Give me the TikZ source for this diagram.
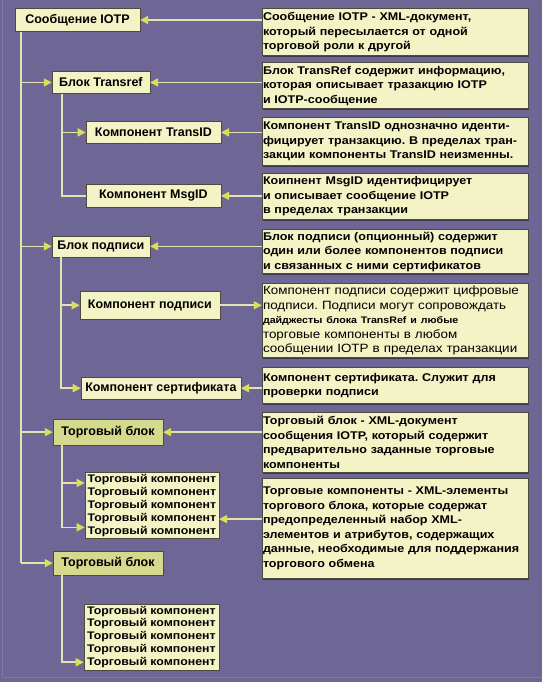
\documentclass[tikz,border=0pt]{standalone}
\usepackage{fontspec}
\setmainfont{Liberation Sans}
\newfontfamily\notefont[FakeStretch=1.12]{Liberation Sans}
\usetikzlibrary{arrows.meta,shadows}
\definecolor{bgcol}{HTML}{6E6796}
\definecolor{framecol}{HTML}{8079A6}
\definecolor{boxfill}{HTML}{F3F3C6}
\definecolor{blockfill}{HTML}{D5D98E}
\definecolor{linecol}{HTML}{E2E3AE}
\definecolor{tipcol}{HTML}{D9E055}
\definecolor{edgecol}{HTML}{4E4A3C}
\frenchspacing

\begin{document}
\begin{tikzpicture}[x=1pt,y=-1pt,
	item/.style={draw=edgecol, fill=boxfill, inner sep=0pt, align=center,
		font=\bfseries\fontsize{12.5}{14}\selectfont,
		drop shadow={shadow xshift=1pt, shadow yshift=-1pt, fill=black, opacity=.4}},
	note/.style={draw=edgecol, fill=boxfill, anchor=north west, minimum width=266pt,
		text width=264pt, inner xsep=1pt, inner ysep=2pt, align=left,
		font=\notefont\bfseries\fontsize{11.2}{14.5}\selectfont,
		drop shadow={shadow xshift=1pt, shadow yshift=-1.5pt, fill=black, opacity=.45}},
	link/.style={draw=linecol, line width=1.6pt},
	arr/.style={link, -{Triangle[length=8pt, width=8pt, color=tipcol]}}]
	\fill [bgcol] (0,0) rectangle (542,682);
	\draw [framecol, line width=1pt] (2.5,0) -- (2.5,677) -- (542,677);
	% left column
	\node [item, minimum width=125pt, minimum height=23pt] (msg) at (77.5,19.5) {Сообщение IOTP};
	\node [item, minimum width=98pt, minimum height=22pt] (tref) at (101,82) {Блок Transref};
	\node [item, minimum width=135pt, minimum height=22pt] (tid) at (153.5,132) {Компонент TransID};
	\node [item, minimum width=135pt, minimum height=23pt] (mid) at (153.5,195.5) {Компонент MsgID};
	\node [item, minimum width=98pt, minimum height=21pt] (sig) at (101,246) {Блок подписи};
	\node [item, minimum width=140pt, minimum height=28pt] (sigc) at (150,305) {Компонент подписи};
	\node [item, minimum width=160pt, minimum height=22pt] (cert) at (161,388) {Компонент сертификата};
	\node [item, fill=blockfill, minimum width=110pt, minimum height=26pt] (tb1) at (108,432) {Торговый блок};
	\node [item, minimum width=134pt, minimum height=66pt, font=\notefont\bfseries\fontsize{11}{13}\selectfont] (st1) at (152,505)
		{Торговый компонент\\Торговый компонент\\Торговый компонент\\Торговый компонент\\Торговый компонент};
	\node [item, fill=blockfill, minimum width=110pt, minimum height=24pt] (tb2) at (108,563) {Торговый блок};
	\node [item, minimum width=135pt, minimum height=66pt, font=\notefont\bfseries\fontsize{11}{13}\selectfont] (st2) at (151.5,637)
		{Торговый компонент\\Торговый компонент\\Торговый компонент\\Торговый компонент\\Торговый компонент};
	% right column
	\node [note, minimum height=47pt] (r1) at (262,8)
		{Сообщение IOTP - XML-документ,\\который пересылается от одной\\торговой роли к другой};
	\node [note, minimum height=46pt] (r2) at (262,62)
		{Блок TransRef содержит информацию,\\которая описывает тразакцию IOTP\\и IOTP-сообщение};
	\node [note, minimum height=48pt] (r3) at (262,117)
		{Компонент TransID однозначно иденти-\\фицирует транзакцию. В пределах тран-\\закции компоненты TransID неизменны.};
	\node [note, minimum height=46pt] (r4) at (262,173)
		{Коипнент MsgID идентифицирует\\и описывает сообщение IOTP\\в пределах транзакции};
	\node [note, minimum height=44pt] (r5) at (262,229)
		{Блок подписи (опционный) содержит\\один или более компонентов подписи\\и связанных с ними сертификатов};
	\node [note, minimum height=74pt, font=\notefont\fontsize{12}{14.5}\selectfont] (r6) at (262,283)
		{Компонент подписи содержит цифровые\\подписи. Подписи могут сопровождать\\{\bfseries\fontsize{9.5}{14.5}\selectfont дайджесты блока TransRef и любые}\\торговые компоненты в любом\\сообщении IOTP в пределах транзакции};
	\node [note, minimum height=36pt] (r7) at (262,367)
		{Компонент сертификата. Служит для\\проверки подписи};
	\node [note, minimum height=60pt] (r8) at (262,412)
		{Торговый блок - XML-документ\\сообщения IOTP, который содержит\\предварительно заданные торговые\\компоненты};
	\node [note, minimum height=100pt] (r9) at (262,478)
		{Торговые компоненты - XML-элементы\\торгового блока, которые содержат\\предопределенный набор XML-\\элементов и атрибутов, содержащих\\данные, необходимые для поддержания\\торгового обмена};
	% main trunk
	\coordinate (t0) at ([xshift=6pt]msg.south west);
	\draw [link] (t0) -- (t0 |- tb2.west);
	\foreach \n in {tref,sig,tb1,tb2}
		\draw [arr] (t0 |- \n.west) -- (\n.west);
	% branches
	\coordinate (b1) at ([xshift=10pt]tref.south west);
	\draw [link] (b1) |- (mid.west);
	\draw [arr] (b1 |- tid.west) -- (tid.west);
	\coordinate (b2) at ([xshift=9pt]sig.south west);
	\draw [arr] (b2) |- (cert.west);
	\draw [arr] (b2 |- sigc.west) -- (sigc.west);
	\coordinate (b3) at ([xshift=9pt]tb1.south west);
	\coordinate (s1a) at ([yshift=-11pt]st1.north west);
	\coordinate (s1b) at ([yshift=11pt]st1.south west);
	\draw [arr] (b3) |- (s1b);
	\draw [arr] (b3 |- s1a) -- (s1a);
	\coordinate (b4) at ([xshift=9pt]tb2.south west);
	\coordinate (s2a) at ([yshift=8pt]st2.south west);
	\draw [arr] (b4) |- (s2a);
	% notes to items
	\foreach \a/\b in {r1/msg,r2/tref,r3/tid,r4/mid,r5/sig,r7/cert,r8/tb1}
		\draw [arr] (\b.east -| \a.west) -- (\b.east);
	\draw [arr] (sigc.east) -- (sigc.east -| r6.west);
	\coordinate (s1c) at ([yshift=-14pt]st1.east);
	\draw [arr] (s1c -| r9.west) -- (s1c);
\end{tikzpicture}
\end{document}
